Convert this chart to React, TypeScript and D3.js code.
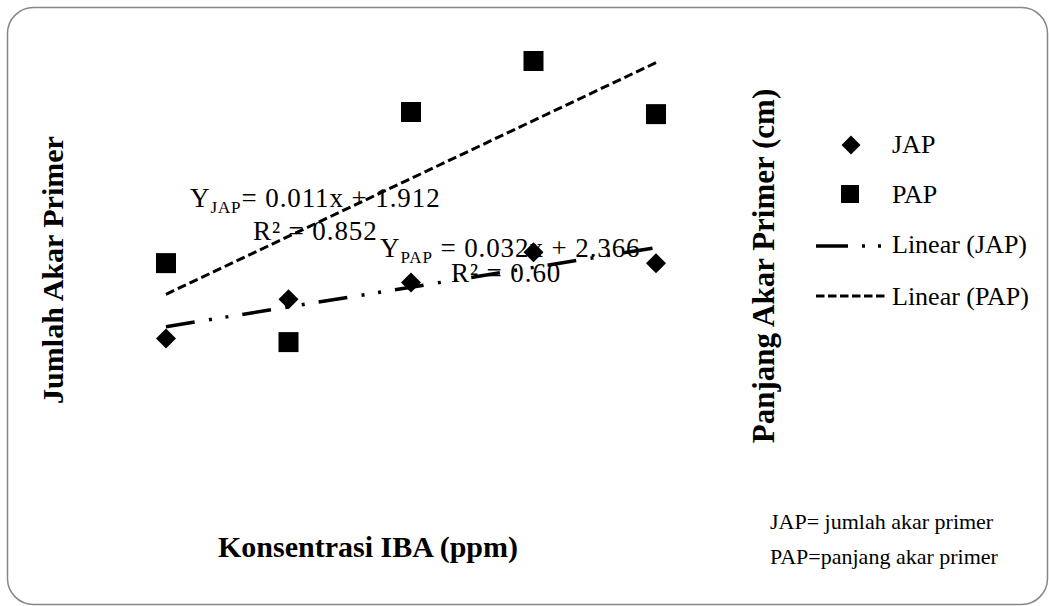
import React from 'react';
import * as d3 from 'd3';

// IBA concentration levels (ppm) - no tick labels shown, spacing is even
const concentrations = [0, 50, 100, 150, 200];
// jumlah akar primer (left axis)
const japValues = [1.55, 2.63, 3.09, 3.92, 3.62];
// panjang akar primer, cm (right axis)
const papValues = [3.2, 1.0, 7.41, 8.83, 7.35];

const legendLabels = ['JAP', 'PAP', 'Linear (JAP)', 'Linear (PAP)'];
const noteLines = ['JAP= jumlah akar primer', 'PAP=panjang akar primer'];

const W = 1049;
const H = 606;
const FONT = "'Liberation Serif', 'Times New Roman', serif";

// simple least squares fit
function fit(xs: number[], ys: number[]) {
  const mx = d3.mean(xs) as number;
  const my = d3.mean(ys) as number;
  const num = d3.sum(xs, (x, i) => (x - mx) * (ys[i] - my));
  const den = d3.sum(xs, x => (x - mx) * (x - mx));
  const slope = num / den;
  return { slope, intercept: my - slope * mx };
}

const App = () => {
  const x = d3.scaleLinear().domain([0, 200]).range([166, 656]);
  const yJap = d3.scaleLinear().domain([0, 10]).range([395, 31]);
  const yPap = d3.scaleLinear().domain([0, 10]).range([378, 19]);

  const jFit = fit(concentrations, japValues);
  const pFit = fit(concentrations, papValues);
  const xEnds = d3.extent(concentrations) as [number, number];

  const jLine = d3.line<number>()
    .x(d => x(d))
    .y(d => yJap(jFit.intercept + jFit.slope * d));
  const pLine = d3.line<number>()
    .x(d => x(d))
    .y(d => yPap(pFit.intercept + pFit.slope * d));

  const diamond = d3.symbol().type(d3.symbolSquare).size(200)();
  const square = d3.symbol().type(d3.symbolSquare).size(400)();
  const legDiamond = d3.symbol().type(d3.symbolSquare).size(180)();
  const legSquare = d3.symbol().type(d3.symbolSquare).size(324)();

  const jDash = '29 14.5 3 13.7 3 14.1';
  const pDash = '9 4';
  const serif = { fontFamily: FONT };

  return (
    <svg width={W} height={H} style={{ position: 'absolute', left: 0, top: 0, fontFamily: FONT }}>
      <rect x={0} y={0} width={W} height={H} fill="#fff" />
      <rect x={7.5} y={7.5} width={1040} height={597} rx={26} ry={26}
        fill="none" stroke="#878787" strokeWidth={1.5} />

      {/* trend lines */}
      <path d={pLine(xEnds) as string} fill="none" stroke="#000" strokeWidth={3}
        strokeDasharray={pDash} />
      <path d={jLine(xEnds) as string} fill="none" stroke="#000" strokeWidth={3.5}
        strokeDasharray={jDash} />

      {/* points */}
      {papValues.map((v, i) => (
        <path key={'p' + i} d={square as string}
          transform={`translate(${x(concentrations[i])},${yPap(v)})`} fill="#000" />
      ))}
      {japValues.map((v, i) => (
        <path key={'j' + i} d={diamond as string}
          transform={`translate(${x(concentrations[i])},${yJap(v)}) rotate(45)`} fill="#000" />
      ))}

      {/* equations */}
      <g fontSize={27} fill="#000" style={serif} letterSpacing={0.9}>
        <text x={190} y={207}>
          Y<tspan dy={6} fontSize={17}>JAP</tspan><tspan dy={-6}>= 0.011x + 1.912</tspan>
        </text>
        <text x={253} y={240}>R² = 0.852</text>
        <text x={380} y={257}>
          Y<tspan dy={6} fontSize={17}>PAP</tspan><tspan dy={-6}> = 0.032x + 2.366</tspan>
        </text>
        <text x={451} y={282}>R² = 0.60</text>
      </g>

      {/* axis titles */}
      <g fontWeight="bold" fontSize={30} fill="#000" textAnchor="middle" style={serif}>
        <text transform="translate(63,270) rotate(-90)">Jumlah Akar Primer</text>
        <text transform="translate(774,266) rotate(-90)" fontSize={31}>Panjang Akar Primer (cm)</text>
        <text x={368} y={557}>Konsentrasi IBA (ppm)</text>
      </g>

      {/* legend */}
      <path d={legDiamond as string} transform="translate(851,145) rotate(45)" fill="#000" />
      <path d={legSquare as string} transform="translate(850,194)" fill="#000" />
      <line x1={816} x2={888} y1={246} y2={246} stroke="#000" strokeWidth={3.5}
        strokeDasharray="32 14 3 13 3 20" />
      <line x1={816} x2={888} y1={296} y2={296} stroke="#000" strokeWidth={3}
        strokeDasharray="8.5 3.5" />
      <g fontSize={26} fill="#000" style={serif}>
        <text x={892} y={153}>{legendLabels[0]}</text>
        <text x={892} y={203}>{legendLabels[1]}</text>
        <text x={892} y={253}>{legendLabels[2]}</text>
        <text x={892} y={305}>{legendLabels[3]}</text>
      </g>

      {/* note */}
      <g fontSize={22} fill="#000" style={serif}>
        {noteLines.map((t, i) => (
          <text key={t} x={770} y={529 + i * 35}>{t}</text>
        ))}
      </g>
    </svg>
  );
};

export default App;
